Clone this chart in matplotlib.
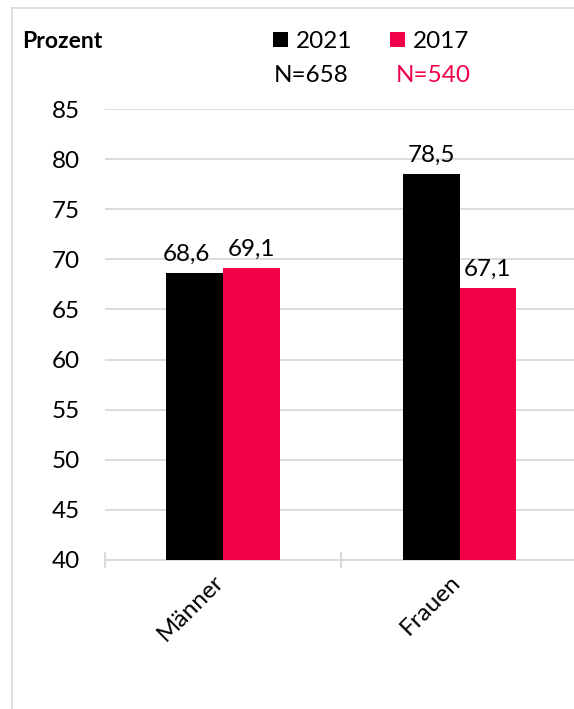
import matplotlib.pyplot as plt
from matplotlib.lines import Line2D
from matplotlib.ticker import FixedLocator
from matplotlib.transforms import ScaledTranslation

plt.rcParams['font.family'] = ['Lato', 'DejaVu Sans']

categories = ['Männer', 'Frauen']
years = ['2021', '2017']
sample_sizes = ['N=658', 'N=540']
values_2021 = [68.6, 78.5]
values_2017 = [69.1, 67.1]
y_ticks = [40, 45, 50, 55, 60, 65, 70, 75, 80, 85]

black = '#000000'
red = '#F00048'
grey = '#D9D9D9'
fs = 17.5

fig = plt.figure(figsize=(5.74, 7.09), dpi=100)
ax = fig.add_axes([104.7 / 574, 149 / 709, 473.3 / 574, 451 / 709])

x = list(range(len(categories)))
w = 0.239
b1 = ax.bar([i - w / 2 for i in x], [v - 40 for v in values_2021], width=w,
            bottom=40, color=black, label=years[0], zorder=3)
b2 = ax.bar([i + w / 2 for i in x], [v - 40 for v in values_2017], width=w,
            bottom=40, color=red, label=years[1], zorder=3)

for bars, vals in [(b1, values_2021), (b2, values_2017)]:
    txts = ax.bar_label(bars, labels=[f'{v:.1f}'.replace('.', ',') for v in vals],
                        padding=6, fontsize=fs)
    if bars is b1:
        # first label nudged left so it doesn't touch the neighbour
        txts[0].xyann = (-6, 6)

ax.set_xlim(-0.5, 1.5)
ax.set_ylim(40, 85)
ax.yaxis.set_major_locator(FixedLocator(y_ticks))
ax.set_yticklabels([str(t) for t in y_ticks], fontsize=fs)
ax.tick_params(axis='y', length=0, pad=18)
ax.grid(axis='y', color=grey, lw=1.3, zorder=0)
ax.set_axisbelow(True)

ax.set_xticks(x)
ax.set_xticklabels(categories, rotation=45, ha='right', fontsize=fs)
ax.tick_params(axis='x', which='major', length=0, pad=8)
shift = ScaledTranslation(5 / 100, 0, fig.dpi_scale_trans)
for lbl in ax.get_xticklabels():
    lbl.set_transform(lbl.get_transform() + shift)
ax.xaxis.set_minor_locator(FixedLocator([-0.5, 0.5, 1.5]))
ax.tick_params(axis='x', which='minor', direction='inout', length=12,
               width=1.3, color=grey)

for s in ['top', 'left', 'right']:
    ax.spines[s].set_visible(False)
ax.spines['bottom'].set_color(grey)
ax.spines['bottom'].set_linewidth(1.3)

# outer frame of the chart area (cropped on the right/bottom)
fig.add_artist(Line2D([12 / 574, 12 / 574], [0, 701 / 709], color=grey, lw=1.2))
fig.add_artist(Line2D([12 / 574, 1], [701 / 709, 701 / 709], color=grey, lw=1.2))

fig.text(22 / 574, 1 - 41 / 709, 'Prozent', fontsize=16.5, fontweight='bold',
         va='center', ha='left')

fig.legend(handles=[b1, b2], labels=years, loc='upper left',
           bbox_to_anchor=(273 / 574, 1 - 31 / 709), ncol=2, frameon=False,
           fontsize=fs, handlelength=0.6, handleheight=0.6,
           handletextpad=0.35, columnspacing=1.55, borderpad=0, borderaxespad=0)

for nx, txt, col in zip([274, 396], sample_sizes, [black, red]):
    fig.text(nx / 574, 1 - 75 / 709, txt, fontsize=fs, color=col,
             va='center', ha='left')

fig.savefig('out.png', dpi=100)
